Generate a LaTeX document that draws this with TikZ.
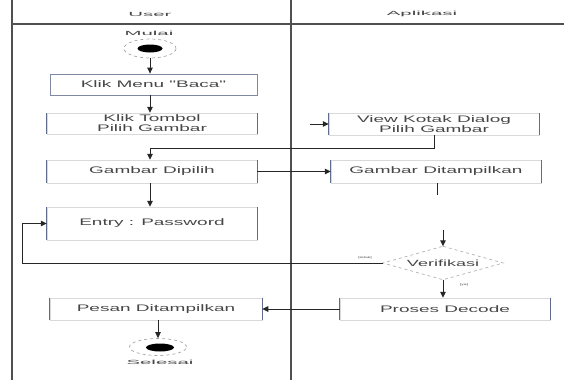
\documentclass[tikz,border=0pt]{standalone}
\usepackage{fontspec}
\usetikzlibrary{arrows.meta,shapes.geometric}
\newfontfamily\boxfont[FakeStretch=2.0]{Liberation Sans}
\newfontfamily\labfont[FakeStretch=3.4]{Liberation Sans}
\definecolor{barcol}{RGB}{95,108,140}
\definecolor{framecol}{RGB}{80,80,80}
\definecolor{txtcol}{RGB}{70,70,70}
\tikzset{
  actbox/.style={draw=gray!30, line width=0.5pt, minimum width=210pt, inner sep=0pt,
    align=center, text=txtcol, font=\boxfont\fontsize{9.5}{10}\selectfont},
  smalllab/.style={inner sep=0pt, text=txtcol, font=\labfont\fontsize{6}{7}\selectfont},
  guardlab/.style={inner sep=0pt, text=txtcol, font=\boxfont\fontsize{2.5}{3}\selectfont},
  sidebar/.style={draw=barcol, line width=1.3pt},
  conn/.style={draw=black!85, line width=0.9pt},
  arr/.style={conn, -{Triangle[length=6pt,width=5.5pt]}},
  frameline/.style={draw=framecol, line width=1.6pt},
  outerring/.style={ellipse, draw=gray!70, dashed, line width=0.7pt, inner sep=0pt},
  innerdot/.style={ellipse, fill=black, inner sep=0pt},
  decision/.style={rectangle, inner sep=0pt, minimum width=120pt, minimum height=33pt,
    text=txtcol, font=\boxfont\fontsize{9}{9}\selectfont},
  decisionedge/.style={draw=gray!60, dashed, line width=0.7pt}
}
\newcommand{\bars}[1]{%
  \draw[sidebar] (#1.north west) -- (#1.south west);
  \draw[sidebar] (#1.north east) -- (#1.south east);}
\begin{document}
\begin{tikzpicture}[x=1pt,y=-1pt]
\useasboundingbox (0,0) rectangle (564,380);
% frame
\coordinate (fl1) at (12,0); \coordinate (fl2) at (12,380);
\coordinate (fm1) at (291,0); \coordinate (fm2) at (291,380);
\coordinate (fh1) at (12,24); \coordinate (fh2) at (564,24);
\draw[frameline] (fl1) -- (fl2);
\draw[frameline] (fm1) -- (fm2);
\draw[frameline] (fh1) -- (fh2);
% headers
\node[smalllab] (huser) at (150,14) {User};
\node[smalllab] (happ) at (422,14) {Aplikasi};
% start
\node[smalllab] (lmulai) at (149,33) {Mulai};
\node[outerring, minimum width=52pt, minimum height=19pt] (start) at (150,48.5) {};
\node[innerdot, minimum width=25pt, minimum height=8pt] (startdot) at (150,48.5) {};
% boxes
\node[actbox, draw=barcol!80, line width=0.8pt, minimum width=207pt, minimum height=21pt] (b1) at (153.5,84.5) {Klik Menu "Baca"};
\node[actbox, minimum height=21pt] (b2) at (152,123.5) {Klik Tombol\\Pilih Gambar};
\node[actbox, minimum height=22pt] (b3) at (434,124) {View Kotak Dialog\\Pilih Gambar};
\node[actbox, minimum height=23pt] (b4) at (152,171.5) {Gambar Dipilih};
\node[actbox, minimum height=23pt] (b5) at (436,171.5) {Gambar Ditampilkan};
\node[actbox, minimum height=33pt] (b6) at (152,223.5) {Entry : Password};
\node[decision] (dia) at (443,263) {Verifikasi};
\draw[decisionedge] (dia.north) -- (dia.east) -- (dia.south) -- (dia.west) -- cycle;
\node[actbox, minimum height=22pt, minimum width=212pt] (b7) at (156,309) {Pesan Ditampilkan};
\node[actbox, minimum height=22pt] (b8) at (445,309) {Proses Decode};
\bars{b2}\bars{b3}\bars{b4}\bars{b5}\bars{b6}\bars{b7}\bars{b8}
% end
\node[outerring, minimum width=57pt, minimum height=17pt] (end) at (158,347) {};
\node[innerdot, minimum width=28pt, minimum height=8pt] (enddot) at (160,347.5) {};
\node[smalllab] (lselesai) at (160,362) {Selesai};
% connectors
\draw[arr] (start.south) -- (start.south |- b1.north);
\draw[arr] (b1.south -| start.south) -- (start.south |- b2.north);
\coordinate (c23) at (310,124);
\draw[arr] (c23) -- (b3.west |- c23);
\draw[arr] (b3.south) -- ++(0,13) -| (b4.north -| start.south);
\draw[arr] (b4.east) -- (b5.west);
\draw[arr] (b4.south -| start.south) -- (start.south |- b6.north);
\coordinate (stubend) at (437,195);
\draw[conn] (b5.south -| stubend) -- (stubend);
\coordinate (cdia) at (443,230);
\draw[arr] (cdia) -- (dia.north);
\coordinate (loopc) at (22,263);
\draw[arr] (dia.west) -- (loopc) |- (b6.west);
\node[guardlab] (gno) at (365,258) {[tidak]};
\draw[arr] (dia.south) -- (b8.north -| dia.south);
\node[guardlab] (gyes) at (464,285) {[ya]};
\draw[arr] (b8.west) -- (b7.east);
\draw[arr] (b7.south -| end.north) -- (end.north);
\end{tikzpicture}
\end{document}
